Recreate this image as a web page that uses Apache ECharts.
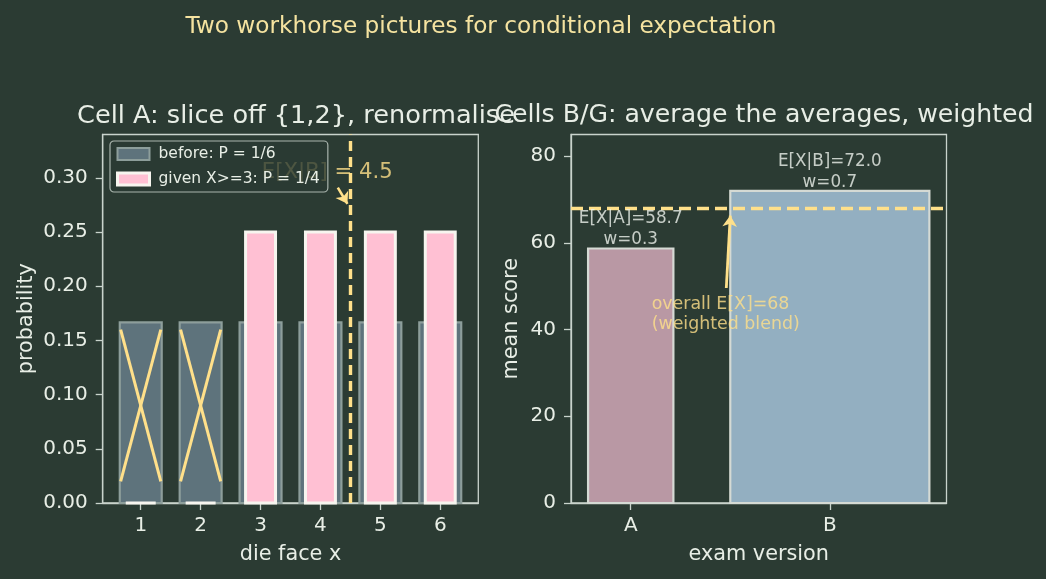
<!DOCTYPE html>
<html>
<head>
<meta charset="utf-8">
<script src="https://cdn.jsdelivr.net/npm/echarts@6/dist/echarts.min.js"></script>
<style>
html,body{margin:0;padding:0;background:#2b3b33;}
#chart{width:1046px;height:579px;}
</style>
</head>
<body>
<div id="chart"></div>
<script>
// ---------------- data ----------------
const faces = [1, 2, 3, 4, 5, 6];
const probBefore = [1/6, 1/6, 1/6, 1/6, 1/6, 1/6];
const probGiven = [0, 0, 0.25, 0.25, 0.25, 0.25];
const removedFaces = [1, 2];
const crossYTop = 0.16;
const crossYBottom = 0.02;
const condMean = 4.5;
const leftTicksY = [0, 0.05, 0.10, 0.15, 0.20, 0.25, 0.30];
const leftAnnotText = 'E[X|B] = 4.5';
const leftAnnotAnchor = [3.02, 0.305];
const leftArrow = [[4.29, 0.291], [4.45, 0.276]];

const groups = ['A', 'B'];
const groupX = [0, 1];
const groupMeans = [58.7, 72.0];
const groupWeights = [0.3, 0.7];
const overallMean = 68;
const rightTicksY = [0, 20, 40, 60, 80];
const rightAnnotText = 'overall E[X]=68\n(weighted blend)';
const rightAnnotAnchor = [0.105, 43.5];
const rightArrow = [[0.48, 49.6], [0.5, 66.3]];

const legendNames = ['before: P = 1/6', 'given X>=3: P = 1/4'];

// ---------------- styles ----------------
const BG = '#2b3b33';
const FG = '#e8eee6';
const SPINE = '#c9d3cc';
const YEL = '#ffe08a';
const FONT = 'DejaVu Sans';
const GRAY_FILL = '#5e737c';
const GRAY_EDGE = '#8d9e9b';
const PINK = '#ffc0d3';
const PINK_EDGE = '#f7f5ef';
const A_FILL = '#b998a4';
const B_FILL = '#93afc1';
const RB_EDGE = '#d5dad4';

function rectRender(width, fill, stroke, lw) {
  return function (params, api) {
    const x = api.value(0), y = api.value(1);
    const p0 = api.coord([x - width / 2, y]);
    const p1 = api.coord([x + width / 2, 0]);
    return {
      type: 'rect',
      shape: { x: p0[0], y: p0[1], width: p1[0] - p0[0], height: p1[1] - p0[1] },
      style: { fill: fill, stroke: stroke, lineWidth: lw }
    };
  };
}

const crossLines = [];
removedFaces.forEach(f => {
  crossLines.push({ coords: [[f - 0.335, crossYTop], [f + 0.335, crossYBottom]] });
  crossLines.push({ coords: [[f - 0.335, crossYBottom], [f + 0.335, crossYTop]] });
});

const maxW = Math.max(...groupWeights);

const axisCommon = {
  axisLine: { show: true, onZero: false, lineStyle: { color: SPINE, width: 1.3 } },
  axisTick: { show: true, length: 7, lineStyle: { color: SPINE, width: 1.3 } },
  splitLine: { show: false },
  nameTextStyle: { color: FG, fontSize: 20.8, fontFamily: FONT },
};

const chart = echarts.init(document.getElementById('chart'), null, { renderer: 'canvas' });
chart.setOption({
  backgroundColor: BG,
  animation: false,
  textStyle: { fontFamily: FONT },
  title: [
    { text: 'Two workhorse pictures for conditional expectation', left: 476, top: 10, textAlign: 'center',
      textStyle: { color: '#f5e3a0', fontSize: 23.2, fontWeight: 'normal', fontFamily: FONT } },
    { text: 'Cell A: slice off {1,2}, renormalise', left: 291, top: 98, textAlign: 'center',
      textStyle: { color: FG, fontSize: 25.6, fontWeight: 'normal', fontFamily: FONT } },
    { text: 'Cells B/G: average the averages, weighted', left: 759, top: 98, textAlign: 'center',
      textStyle: { color: FG, fontSize: 25.2, fontWeight: 'normal', fontFamily: FONT } }
  ],
  legend: {
    orient: 'vertical', left: 110, top: 141, z: 20,
    padding: [5, 8, 5, 6], itemGap: 9, itemWidth: 32, itemHeight: 12,
    backgroundColor: 'rgba(43,59,51,0.8)', borderColor: 'rgba(201,211,204,0.8)', borderWidth: 1.2, borderRadius: 4,
    textStyle: { color: FG, fontSize: 15.5, fontFamily: FONT, padding: [0, 0, 0, 4] },
    data: [
      { name: legendNames[0], icon: 'rect', itemStyle: { color: GRAY_FILL, borderColor: GRAY_EDGE, borderWidth: 2 } },
      { name: legendNames[1], icon: 'rect', itemStyle: { color: PINK, borderColor: PINK_EDGE, borderWidth: 3 } }
    ]
  },
  grid: [
    { left: 102.7, right: 567.7, top: 134.5, bottom: 76, show: true, borderColor: SPINE, borderWidth: 1.3, containLabel: false },
    { left: 571, right: 99.5, top: 134.5, bottom: 76, show: true, borderColor: SPINE, borderWidth: 1.3, containLabel: false }
  ],
  xAxis: [
    Object.assign({}, axisCommon, {
      gridIndex: 0, type: 'value', min: 0.365, max: 6.635,
      name: 'die face x', nameLocation: 'middle', nameGap: 41,
      axisTick: Object.assign({}, axisCommon.axisTick, { customValues: faces }),
      axisLabel: { customValues: faces, color: FG, fontSize: 20, margin: 13, fontFamily: FONT }
    }),
    Object.assign({}, axisCommon, {
      gridIndex: 1, type: 'value', min: -0.3, max: 1.586,
      name: 'exam version', nameLocation: 'middle', nameGap: 41,
      axisTick: Object.assign({}, axisCommon.axisTick, { customValues: groupX }),
      axisLabel: { customValues: groupX, formatter: v => groups[groupX.indexOf(Math.round(v))] || '',
                   color: FG, fontSize: 20, margin: 13, fontFamily: FONT }
    })
  ],
  yAxis: [
    Object.assign({}, axisCommon, {
      gridIndex: 0, type: 'value', min: 0, max: 0.34,
      name: 'probability', nameLocation: 'middle', nameGap: 66,
      axisTick: Object.assign({}, axisCommon.axisTick, { customValues: leftTicksY }),
      axisLabel: { customValues: leftTicksY, formatter: v => v.toFixed(2), color: FG, fontSize: 20, margin: 15, fontFamily: FONT }
    }),
    Object.assign({}, axisCommon, {
      gridIndex: 1, type: 'value', min: 0, max: 85,
      name: 'mean score', nameLocation: 'middle', nameGap: 49,
      axisTick: Object.assign({}, axisCommon.axisTick, { customValues: rightTicksY }),
      axisLabel: { customValues: rightTicksY, color: FG, fontSize: 20, margin: 15, fontFamily: FONT }
    })
  ],
  series: [
    {
      name: legendNames[0], type: 'custom', xAxisIndex: 0, yAxisIndex: 0, z: 2,
      itemStyle: { color: GRAY_FILL, borderColor: GRAY_EDGE },
      data: faces.map((f, i) => [f, probBefore[i]]),
      renderItem: rectRender(0.7, GRAY_FILL, GRAY_EDGE, 2.2)
    },
    {
      name: legendNames[1], type: 'custom', xAxisIndex: 0, yAxisIndex: 0, z: 3,
      itemStyle: { color: PINK, borderColor: PINK_EDGE },
      data: faces.map((f, i) => [f, probGiven[i]]),
      renderItem: rectRender(0.5, PINK, PINK_EDGE, 3),
      markLine: {
        silent: true, symbol: ['none', 'none'], label: { show: false },
        lineStyle: { color: YEL, width: 3.4, type: [10, 6] },
        data: [{ xAxis: condMean }]
      }
    },
    {
      type: 'lines', coordinateSystem: 'cartesian2d', xAxisIndex: 0, yAxisIndex: 0, z: 4,
      lineStyle: { color: YEL, width: 3, opacity: 1 },
      symbol: ['none', 'none'],
      data: crossLines
    },
    {
      type: 'lines', coordinateSystem: 'cartesian2d', xAxisIndex: 0, yAxisIndex: 0, z: 4,
      lineStyle: { color: YEL, width: 2.6, opacity: 1 },
      symbol: ['none', 'arrow'], symbolSize: 11,
      data: [{ coords: leftArrow }]
    },
    {
      type: 'scatter', xAxisIndex: 0, yAxisIndex: 0, symbolSize: 0, z: 3, silent: true,
      data: [leftAnnotAnchor],
      label: { show: true, position: 'right', distance: 0, formatter: leftAnnotText,
               color: YEL, fontSize: 21.2, fontFamily: FONT }
    },
    // right panel
    {
      type: 'custom', xAxisIndex: 1, yAxisIndex: 1, z: 2,
      data: groupX.map((x, i) => [x, groupMeans[i], groupWeights[i] / maxW]),
      renderItem: function (params, api) {
        const x = api.value(0), y = api.value(1), w = api.value(2);
        const p0 = api.coord([x - w / 2, y]);
        const p1 = api.coord([x + w / 2, 0]);
        return {
          type: 'rect',
          shape: { x: p0[0], y: p0[1], width: p1[0] - p0[0], height: p1[1] - p0[1] },
          style: { fill: params.dataIndex === 0 ? A_FILL : B_FILL, stroke: RB_EDGE, lineWidth: 2.2 }
        };
      },
      markLine: {
        silent: true, symbol: ['none', 'none'], label: { show: false },
        lineStyle: { color: YEL, width: 3.4, type: [12, 6] },
        data: [{ yAxis: overallMean }]
      }
    },
    {
      type: 'scatter', xAxisIndex: 1, yAxisIndex: 1, symbolSize: 0, z: 5, silent: true,
      data: groupX.map((x, i) => [x, groupMeans[i]]),
      label: { show: true, position: 'top', distance: -2, align: 'center', lineHeight: 21,
               formatter: p => `E[X|${groups[p.dataIndex]}]=${groupMeans[p.dataIndex].toFixed(1)}\nw=${groupWeights[p.dataIndex]}`,
               color: '#eef2ec', fontSize: 16.8, fontFamily: FONT }
    },
    {
      type: 'lines', coordinateSystem: 'cartesian2d', xAxisIndex: 1, yAxisIndex: 1, z: 6,
      lineStyle: { color: YEL, width: 2.8, opacity: 1 },
      symbol: ['none', 'arrow'], symbolSize: 11,
      data: [{ coords: rightArrow }]
    },
    {
      type: 'scatter', xAxisIndex: 1, yAxisIndex: 1, symbolSize: 0, z: 5, silent: true,
      data: [rightAnnotAnchor],
      label: { show: true, position: 'right', distance: 0, formatter: rightAnnotText, lineHeight: 20,
               color: YEL, fontSize: 17.4, fontFamily: FONT }
    }
  ]
});
</script>
</body>
</html>
